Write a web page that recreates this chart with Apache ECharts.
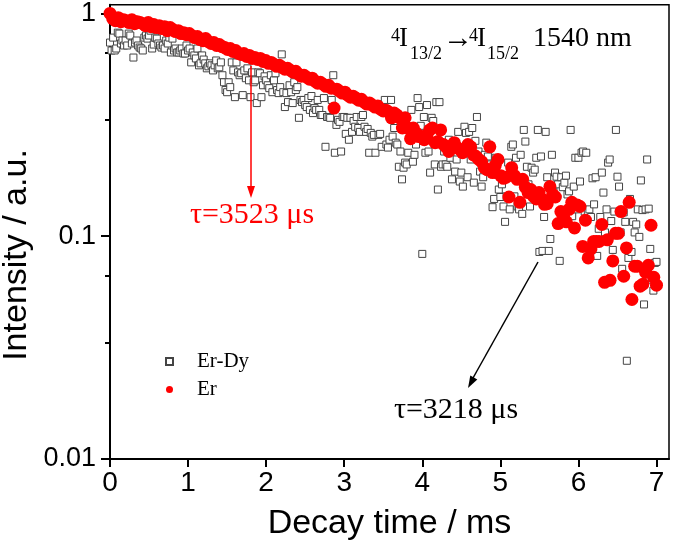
<!DOCTYPE html>
<html><head><meta charset="utf-8">
<script src="https://cdn.jsdelivr.net/npm/echarts@6/dist/echarts.min.js"></script>
<style>html,body{margin:0;padding:0;background:#fff}#c{width:675px;height:546px}</style>
</head><body><div id="c"></div><script>
// sampling step of each decay curve (ms)
const erDyStep = 0.02;
const erStep = 0.035;
// Er-Dy intensities (a.u.), one per time step
const erDyIntensity = [
0.740,0.682,0.779,0.682,0.696,0.820,0.812,0.733,0.756,0.718,
0.756,0.718,0.812,0.796,0.733,0.634,0.740,0.756,0.718,0.703,
0.696,0.682,0.779,0.796,0.771,0.796,0.837,0.696,0.725,0.779,
0.771,0.733,0.718,0.703,0.718,0.696,0.756,0.733,0.779,0.668,
0.771,0.682,0.696,0.668,0.668,0.682,0.696,0.661,0.661,0.718,
0.682,0.696,0.603,0.668,0.648,0.628,0.696,0.585,0.597,0.648,
0.621,0.597,0.567,0.579,0.597,0.585,0.555,0.585,0.615,0.567,
0.573,0.603,0.528,0.491,0.453,0.443,0.491,0.467,0.603,0.555,
0.421,0.603,0.544,0.528,0.539,0.430,0.555,0.512,0.567,0.501,
0.421,0.544,0.491,0.501,0.396,0.544,0.539,0.421,0.476,0.522,
0.501,0.476,0.462,0.528,0.443,0.501,0.539,0.453,0.439,0.467,
0.655,0.443,0.380,0.439,0.400,0.476,0.443,0.396,0.491,0.453,
0.467,0.340,0.409,0.400,0.409,0.388,0.380,0.417,0.369,0.426,
0.357,0.376,0.369,0.409,0.369,0.350,0.350,0.417,0.252,0.343,
0.343,0.340,0.409,0.528,0.237,0.316,0.333,0.326,0.240,0.343,
0.343,0.288,0.340,0.271,0.340,0.294,0.329,0.310,0.343,0.306,
0.294,0.343,0.350,0.310,0.294,0.303,0.237,0.291,0.280,0.285,
0.237,0.392,0.285,0.288,0.252,0.369,0.409,0.258,0.250,0.271,
0.409,0.280,0.306,0.263,0.258,0.205,0.240,0.180,0.203,0.214,
0.210,0.237,0.277,0.369,0.216,0.232,0.258,0.417,0.380,0.313,
0.0833,0.343,0.237,0.388,0.240,0.193,0.340,0.329,0.210,0.400,
0.162,0.400,0.205,0.210,0.240,0.210,0.205,0.271,0.225,0.180,
0.252,0.195,0.221,0.294,0.176,0.193,0.167,0.310,0.291,0.184,
0.294,0.221,0.306,0.174,0.268,0.343,0.240,0.195,0.167,0.184,
0.232,0.263,0.228,0.205,0.210,0.135,0.147,0.225,0.189,0.162,
0.150,0.171,0.136,0.116,0.151,0.214,0.132,0.252,0.258,0.151,
0.225,0.136,0.132,0.232,0.126,0.300,0.266,0.205,0.171,0.136,
0.203,0.193,0.199,0.225,0.300,0.0850,0.228,0.0859,0.122,0.294,
0.184,0.0859,0.0972,0.232,0.159,0.193,0.185,0.171,0.0775,0.184,
0.166,0.174,0.187,0.154,0.159,0.300,0.123,0.167,0.225,0.132,
0.225,0.176,0.237,0.240,0.129,0.237,0.128,0.132,0.122,0.182,
0.139,0.184,0.0816,0.108,0.122,0.193,0.157,0.104,0.132,0.214,
0.221,0.117,0.0868,0.129,0.300,0.185,0.167,0.104,0.0714,0.128,
0.116,0.0276,0.0799,0.147,0.0850,0.116,0.104,0.113,0.132,0.0993,
0.178,0.131,0.0494,0.132,0.221,0.133,0.0877,0.0638,0.0570,0.0759,
0.0767
];
// Er intensities (a.u.), one per time step
const erIntensity = [
1.0,0.947,0.928,0.957,0.918,0.937,
0.928,0.910,0.937,0.900,0.918,0.910,
0.900,0.881,0.910,0.872,0.891,0.864,
0.881,0.855,0.872,0.837,0.864,0.846,
0.829,0.837,0.812,0.820,0.803,0.812,
0.795,0.779,0.787,0.763,0.755,0.771,
0.748,0.733,0.740,0.718,0.725,0.710,
0.703,0.689,0.696,0.675,0.682,0.661,
0.655,0.661,0.641,0.648,0.628,0.634,
0.622,0.628,0.609,0.615,0.597,0.603,
0.591,0.579,0.585,0.573,0.562,0.567,
0.556,0.545,0.550,0.534,0.523,0.528,
0.517,0.507,0.512,0.497,0.486,0.491,
0.481,0.471,0.476,0.462,0.376,0.457,
0.448,0.439,0.443,0.430,0.421,0.425,
0.417,0.408,0.412,0.400,0.392,0.396,
0.388,0.380,0.384,0.372,0.365,0.368,
0.361,0.340,0.357,0.350,0.340,0.306,0.340,0.306,0.274,0.306,
0.291,0.280,0.280,0.271,0.285,0.300,0.306,0.263,0.266,0.300,
0.258,0.252,0.240,0.255,0.263,0.250,0.245,0.237,0.245,0.258,
0.252,0.232,0.228,0.221,0.216,0.203,0.199,0.252,0.193,0.208,
0.221,0.187,0.182,0.184,0.150,0.203,0.187,0.180,0.142,0.180,
0.166,0.157,0.162,0.151,0.147,0.157,0.147,0.139,0.140,0.167,
0.154,0.150,0.114,0.129,0.122,0.116,0.132,0.142,0.109,0.138,
0.136,0.0900,0.118,0.0799,0.0877,0.0948,0.0948,0.0948,0.113,0.0621,
0.0963,0.0634,0.0775,0.103,0.103,0.129,0.0661,0.0886,0.142,0.0520,
0.0733,0.0733,0.0597,0.0609,0.0688,0.0740,0.112,0.0654,0.0603
];
const seriesNames = ['Er-Dy', 'Er'];
const xTicks = [0, 1, 2, 3, 4, 5, 6, 7];
const yTicks = [0.01, 0.1, 1];
const yMinorTicks = [0.0333, 0.0667, 0.333, 0.667];
const xTitle = 'Decay time / ms';
const yTitle = 'Intensity / a.u.';
const erLabel = 'τ=3523 μs';
const erDyLabel = 'τ=3218 μs';

const erDyData = erDyIntensity.map((v, i) => [+(i * erDyStep).toFixed(4), v]);
const erData = erIntensity.map((v, i) => [+(i * erStep).toFixed(4), v]);

const SANS = 'Liberation Sans';
const SERIF = 'Liberation Serif';
function txt(text, x, y, size, color, align) {
  return { type: 'text', x: x, y: y, z: 100, style: { text: text, fill: color || '#000', font: size + 'px "' + SERIF + '"', align: align || 'left', verticalAlign: 'middle' } };
}

const chart = echarts.init(document.getElementById('c'), null, { renderer: 'canvas' });
chart.setOption({
  animation: false,
  backgroundColor: '#fff',
  grid: { left: 110, top: 4, width: 559, height: 458, show: true, borderColor: '#000', borderWidth: 1.5, backgroundColor: 'transparent', containLabel: false },
  xAxis: {
    type: 'value', min: 0, max: 7.16, interval: 1,
    axisLine: { show: true, lineStyle: { color: '#000', width: 2 } },
    axisTick: { show: true, customValues: xTicks, length: 8, inside: false, lineStyle: { color: '#000', width: 2 } },
    axisLabel: { customValues: xTicks, fontSize: 28, fontFamily: SANS, color: '#000', margin: 10 },
    splitLine: { show: false },
    name: xTitle, nameLocation: 'middle', nameGap: 48,
    nameTextStyle: { fontSize: 34, fontFamily: SANS, color: '#000' }
  },
  yAxis: [{
    type: 'log', logBase: 10, min: 0.01, max: 1.093,
    axisLine: { show: true, lineStyle: { color: '#000', width: 2 } },
    axisTick: { show: true, customValues: yTicks, length: 9, inside: false, lineStyle: { color: '#000', width: 2 } },
    axisLabel: { customValues: yTicks, fontSize: 27, fontFamily: SANS, color: '#000', margin: 14, formatter: v => String(v) },
    splitLine: { show: false }
  }, {
    type: 'log', logBase: 10, min: 0.01, max: 1.093, position: 'left', offset: 0,
    axisLine: { show: false },
    axisTick: { show: true, customValues: yMinorTicks, length: 5, inside: false, lineStyle: { color: '#000', width: 2 } },
    axisLabel: { show: false },
    splitLine: { show: false }
  }],
  legend: {
    orient: 'vertical', left: 160, top: 346, itemWidth: 7, itemHeight: 7, itemGap: 7,
    textStyle: { fontFamily: SERIF, fontSize: 21, color: '#000', padding: [0, 0, 0, 19] },
    data: [{ name: seriesNames[0], icon: 'rect' }, { name: seriesNames[1], icon: 'circle' }]
  },
  series: [{
    name: seriesNames[0], type: 'scatter', data: erDyData, symbol: 'rect', symbolSize: 7,
    itemStyle: { color: '#fff', borderColor: '#444', borderWidth: 1, opacity: 1 }, z: 2
  }, {
    name: seriesNames[1], type: 'scatter', data: erData, symbol: 'circle', symbolSize: 13,
    itemStyle: { color: '#ff0000', opacity: 1 }, z: 3
  }],
  graphic: [
    { type: 'text', x: 17, y: 255, rotation: Math.PI / 2, z: 100,
      style: { text: yTitle, fill: '#000', font: '34px "' + SANS + '"', align: 'center', verticalAlign: 'middle' } },
    txt('4', 391, 36, 18), txt('I', 399, 39, 27), txt('13/2', 410, 54, 18),
    txt('→', 443, 39, 30),
    txt('4', 469, 36, 18), txt('I', 477, 39, 27), txt('15/2', 487, 54, 18),
    txt('1540 nm', 533, 39, 28),
    { type: 'line', z: 100, shape: { x1: 251, y1: 66, x2: 251, y2: 188 }, style: { stroke: '#ff0000', lineWidth: 1.5 } },
    { type: 'polygon', z: 100, shape: { points: [[251, 198], [247, 186], [255, 186]] }, style: { fill: '#ff0000' } },
    txt(erLabel, 252, 215, 30, '#ff0000', 'center'),
    { type: 'line', z: 100, shape: { x1: 538, y1: 262, x2: 473, y2: 378 }, style: { stroke: '#000', lineWidth: 1.5 } },
    { type: 'polygon', z: 100, shape: { points: [[468, 388], [477.3, 379.4], [470.3, 375.6]] }, style: { fill: '#000' } },
    txt(erDyLabel, 456, 410, 30, '#000', 'center')
  ]
});
</script></body></html>
